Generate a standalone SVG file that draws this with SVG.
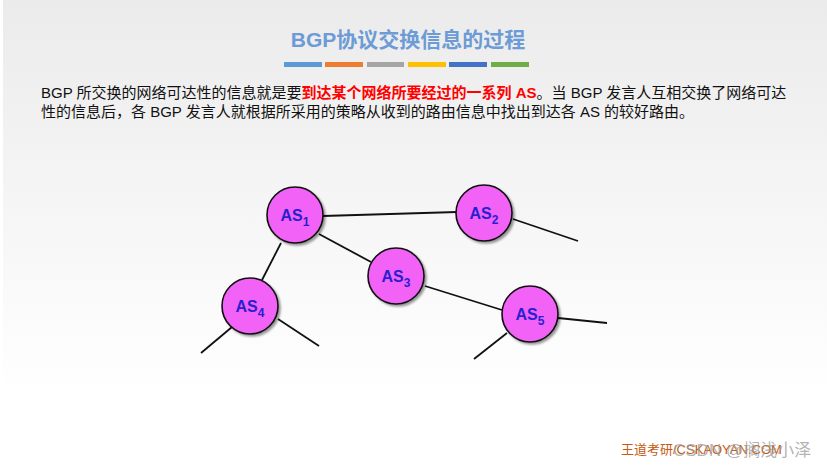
<svg xmlns="http://www.w3.org/2000/svg" width="827" height="469" viewBox="0 0 827 469">
<defs>
<linearGradient id="bg" x1="0" y1="0" x2="0" y2="1">
<stop offset="0" stop-color="#ebebeb"/>
<stop offset="1" stop-color="#ffffff"/>
</linearGradient>
<filter id="sh" x="-20%" y="-20%" width="150%" height="150%">
<feGaussianBlur in="SourceAlpha" stdDeviation="1.2"/>
<feOffset dx="2" dy="2" result="b"/>
<feComponentTransfer><feFuncA type="linear" slope="0.4"/></feComponentTransfer>
<feMerge><feMergeNode/><feMergeNode in="SourceGraphic"/></feMerge>
</filter>
</defs>
<style>
.t{font-family:"Liberation Sans","Noto Sans CJK SC",sans-serif;font-size:15px;fill:#111}
.red{fill:#ff0000;font-weight:bold}
.node circle{fill:#f262f7;stroke:#111;stroke-width:1.6;filter:url(#sh)}
.node text{font-family:"Liberation Sans",sans-serif;font-weight:700;font-size:16px;fill:#2a1fd0;text-anchor:middle}
.sub{font-size:12px}
.edges line{stroke:#111;stroke-width:1.8}
</style>
<rect x="0" y="0" width="827" height="469" fill="#fff"/>
<rect x="3" y="0" width="824" height="395" fill="url(#bg)"/>
<text x="408" y="47" text-anchor="middle" font-family="'Liberation Sans','Noto Sans CJK SC',sans-serif" font-size="21" font-weight="bold" fill="#6c9bd6">BGP协议交换信息的过程</text>
<g id="bars">
<rect x="284" y="62" width="38" height="5" fill="#5b9bd5"/>
<rect x="325" y="62" width="38" height="5" fill="#ed7d31"/>
<rect x="367" y="62" width="37" height="5" fill="#a5a5a5"/>
<rect x="408" y="62" width="38" height="5" fill="#ffc000"/>
<rect x="449" y="62" width="38" height="5" fill="#4472c4"/>
<rect x="491" y="62" width="38" height="5" fill="#70ad47"/>
</g>
<text class="t" x="41" y="98">BGP 所交换的网络可达性的信息就是要<tspan class="red">到达某个网络所要经过的一系列 AS</tspan>。当 BGP 发言人互相交换了网络可达</text>
<text class="t" x="41" y="117">性的信息后，各 BGP 发言人就根据所采用的策略从收到的路由信息中找出到达各 AS 的较好路由。</text>
<g class="edges" id="connectors">
<line x1="323" y1="216" x2="457" y2="212"/>
<line x1="513" y1="219" x2="578" y2="241"/>
<line x1="319" y1="234" x2="371" y2="262"/>
<line x1="281" y1="243" x2="262" y2="280"/>
<line x1="425" y1="286" x2="502" y2="310"/>
<line x1="232" y1="327" x2="201" y2="353"/>
<line x1="278" y1="319" x2="319" y2="346"/>
<line x1="558" y1="318" x2="607" y2="323"/>
<line x1="507" y1="333" x2="474" y2="359"/>
</g>
<g class="node" id="as1"><circle cx="295" cy="215" r="28"/><text x="295" y="221">AS<tspan class="sub" dy="5">1</tspan></text></g>
<g class="node" id="as2"><circle cx="484" cy="213" r="28"/><text x="484" y="219">AS<tspan class="sub" dy="5">2</tspan></text></g>
<g class="node" id="as3"><circle cx="396" cy="276" r="28"/><text x="396" y="282">AS<tspan class="sub" dy="5">3</tspan></text></g>
<g class="node" id="as4"><circle cx="250" cy="306" r="28"/><text x="250" y="312">AS<tspan class="sub" dy="5">4</tspan></text></g>
<g class="node" id="as5"><circle cx="530" cy="314" r="28"/><text x="530" y="320">AS<tspan class="sub" dy="5">5</tspan></text></g>
<text x="621" y="454" font-family="'Liberation Sans','Noto Sans CJK SC',sans-serif" font-size="13" fill="#c55a11">王道考研/CSKAOYAN.COM</text>
<text x="673" y="456" font-family="'Liberation Sans','Noto Sans CJK SC',sans-serif" font-size="17" fill="#9a9a9a" fill-opacity="0.75">CSDN @搁浅小泽</text>
</svg>
